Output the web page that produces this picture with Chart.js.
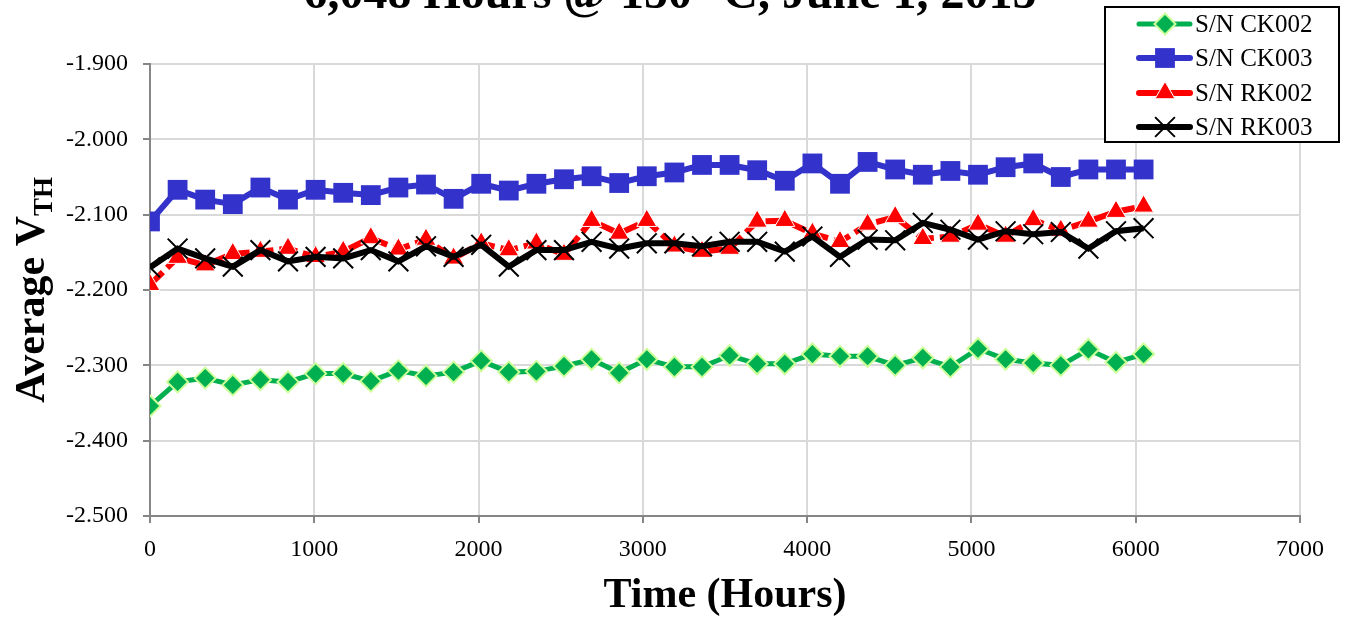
<!DOCTYPE html>
<html>
<head>
<meta charset="utf-8">
<title>Average VTH vs Time</title>
<script src="https://cdn.jsdelivr.net/npm/chart.js@4.4.1/dist/chart.umd.min.js"></script>
<style>
  html, body { margin: 0; padding: 0; background: #fff; }
  #wrap { width: 1345px; height: 617px; }
</style>
</head>
<body>
<div id="wrap"><canvas id="vthChart" width="1345" height="617"></canvas></div>
<script>
// Weekly readings (hours at 150 C)
const hours = [0, 168, 336, 504, 672, 840, 1008, 1176, 1344, 1512, 1680, 1848, 2016,
  2184, 2352, 2520, 2688, 2856, 3024, 3192, 3360, 3528, 3696, 3864, 4032, 4200,
  4368, 4536, 4704, 4872, 5040, 5208, 5376, 5544, 5712, 5880, 6048];

const ck002 = [-2.354, -2.322, -2.317, -2.326, -2.319, -2.322, -2.311, -2.311, -2.321, -2.307,
  -2.314, -2.309, -2.294, -2.309, -2.308, -2.301, -2.292, -2.310, -2.292, -2.302,
  -2.302, -2.287, -2.298, -2.298, -2.285, -2.288, -2.288, -2.300, -2.290, -2.302,
  -2.278, -2.292, -2.297, -2.300, -2.279, -2.296, -2.285];

const ck003 = [-2.109, -2.067, -2.080, -2.086, -2.064, -2.080, -2.067, -2.071, -2.074, -2.064,
  -2.060, -2.079, -2.059, -2.068, -2.059, -2.053, -2.049, -2.058, -2.049, -2.044,
  -2.034, -2.034, -2.041, -2.055, -2.032, -2.059, -2.030, -2.040, -2.047, -2.042,
  -2.047, -2.037, -2.032, -2.050, -2.040, -2.040, -2.040];

const rk002 = [-2.193, -2.157, -2.167, -2.152, -2.149, -2.145, -2.156, -2.149, -2.131, -2.146,
  -2.133, -2.158, -2.138, -2.147, -2.138, -2.153, -2.108, -2.125, -2.108, -2.142,
  -2.149, -2.145, -2.109, -2.108, -2.125, -2.136, -2.113, -2.103, -2.132, -2.129,
  -2.113, -2.129, -2.107, -2.121, -2.109, -2.096, -2.089];

const rk003 = [-2.170, -2.145, -2.158, -2.169, -2.147, -2.162, -2.156, -2.158, -2.147, -2.162,
  -2.142, -2.156, -2.140, -2.169, -2.147, -2.147, -2.136, -2.145, -2.138, -2.138,
  -2.142, -2.136, -2.136, -2.149, -2.129, -2.156, -2.133, -2.134, -2.111, -2.120,
  -2.133, -2.122, -2.126, -2.123, -2.145, -2.122, -2.118];

const seriesNames = ['S/N CK002', 'S/N CK003', 'S/N RK002', 'S/N RK003'];
const xTicks = [0, 1000, 2000, 3000, 4000, 5000, 6000, 7000];
const yTicks = [-2.5, -2.4, -2.3, -2.2, -2.1, -2.0, -1.9];

const serif = "'Liberation Serif', 'Times New Roman', serif";

function toPoints(values) {
  return hours.map((h, i) => ({ x: h, y: values[i] }));
}

// marker shapes for the legend box, sized like the plotted points
function drawMarker(ctx, ds, x, y) {
  const r = ds.pointRadius;
  ctx.save();
  ctx.fillStyle = ds.pointBackgroundColor;
  ctx.strokeStyle = ds.pointBorderColor;
  ctx.lineWidth = ds.pointBorderWidth;
  ctx.beginPath();
  if (ds.pointStyle === 'rectRot') {
    ctx.moveTo(x, y - r); ctx.lineTo(x + r, y); ctx.lineTo(x, y + r); ctx.lineTo(x - r, y);
    ctx.closePath(); ctx.fill(); ctx.stroke();
  } else if (ds.pointStyle === 'rect') {
    const s = r * Math.SQRT1_2;
    ctx.rect(x - s, y - s, 2 * s, 2 * s); ctx.fill();
  } else if (ds.pointStyle === 'triangle') {
    ctx.moveTo(x, y - r);
    ctx.lineTo(x + r * 0.866, y + r * 0.5);
    ctx.lineTo(x - r * 0.866, y + r * 0.5);
    ctx.closePath(); ctx.fill(); ctx.stroke();
  } else {
    const s = r * Math.SQRT1_2;
    ctx.moveTo(x - s, y - s); ctx.lineTo(x + s, y + s);
    ctx.moveTo(x + s, y - s); ctx.lineTo(x - s, y + s);
    ctx.stroke();
  }
  ctx.restore();
}

const textPlugin = {
  id: 'chartText',
  afterDraw(chart) {
    const ctx = chart.ctx;
    ctx.save();
    ctx.fillStyle = '#000';

    // title (sits partly above the canvas edge)
    ctx.font = 'bold 48px ' + serif;
    ctx.textAlign = 'center';
    ctx.textBaseline = 'alphabetic';
    ctx.fillText('6,048 Hours @ 150\u00B0 C, June 1, 2015', 670, 8);

    // x axis title
    ctx.font = 'bold 42px ' + serif;
    ctx.fillText('Time (Hours)', 725, 607);

    // y axis title with subscript
    ctx.save();
    ctx.translate(44, 290);
    ctx.rotate(-Math.PI / 2);
    ctx.textAlign = 'left';
    ctx.font = 'bold 42px ' + serif;
    const main = 'Average V';
    const wMain = ctx.measureText(main).width;
    ctx.font = 'bold 27px ' + serif;
    const wSub = ctx.measureText('TH').width;
    const x0 = -(wMain + wSub) / 2;
    ctx.font = 'bold 42px ' + serif;
    ctx.fillText(main, x0, 0);
    ctx.font = 'bold 27px ' + serif;
    ctx.fillText('TH', x0 + wMain, 8);
    ctx.restore();

    // legend box
    const lx = 1105, ly = 7, lw = 234, lh = 135;
    ctx.fillStyle = '#fff';
    ctx.fillRect(lx, ly, lw, lh);
    ctx.strokeStyle = '#000';
    ctx.lineWidth = 2;
    ctx.strokeRect(lx, ly, lw, lh);
    const rowsY = [24, 58, 93, 127];
    chart.data.datasets.forEach((ds, i) => {
      const y = rowsY[i];
      ctx.save();
      ctx.strokeStyle = ds.borderColor;
      ctx.lineWidth = ds.borderWidth;
      ctx.lineCap = 'round';
      ctx.beginPath();
      ctx.moveTo(1139, y);
      ctx.lineTo(1190, y);
      ctx.stroke();
      ctx.restore();
      drawMarker(ctx, ds, 1165, y);
      ctx.fillStyle = '#000';
      ctx.font = '25px ' + serif;
      ctx.textAlign = 'left';
      ctx.textBaseline = 'middle';
      ctx.fillText(ds.label, 1195, y + 1);
    });
    ctx.restore();
  }
};

new Chart(document.getElementById('vthChart'), {
  type: 'line',
  data: {
    datasets: [
      {
        label: seriesNames[0],
        data: toPoints(ck002),
        borderColor: '#00b050',
        borderWidth: 5,
        pointStyle: 'rectRot',
        pointRadius: 10.5,
        pointBackgroundColor: '#00b050',
        pointBorderColor: '#ccff99',
        pointBorderWidth: 2,
        order: 4
      },
      {
        label: seriesNames[1],
        data: toPoints(ck003),
        borderColor: '#3333cc',
        borderWidth: 6,
        pointStyle: 'rect',
        pointRadius: 14,
        pointBackgroundColor: '#3333cc',
        pointBorderColor: '#3333cc',
        pointBorderWidth: 0,
        order: 3
      },
      {
        label: seriesNames[2],
        data: toPoints(rk002),
        borderColor: '#ff0000',
        borderWidth: 6,
        borderDash: [18, 6],
        pointStyle: 'triangle',
        pointRadius: 11.5,
        pointBackgroundColor: '#ff0000',
        pointBorderColor: '#ffffff',
        pointBorderWidth: 1,
        order: 2
      },
      {
        label: seriesNames[3],
        data: toPoints(rk003),
        borderColor: '#000000',
        borderWidth: 6,
        pointStyle: 'crossRot',
        pointRadius: 14,
        pointBackgroundColor: '#000000',
        pointBorderColor: '#000000',
        pointBorderWidth: 2,
        order: 1
      }
    ]
  },
  options: {
    responsive: false,
    animation: false,
    devicePixelRatio: 1,
    layout: { padding: { top: 64, right: 45, left: 0, bottom: 0 } },
    plugins: {
      legend: { display: false },
      title: { display: false },
      tooltip: { enabled: false }
    },
    elements: { line: { tension: 0 } },
    scales: {
      x: {
        type: 'linear',
        min: 0,
        max: 7000,
        afterFit: s => { s.height = 101; },
        afterBuildTicks: s => { s.ticks = xTicks.map(v => ({ value: v })); },
        ticks: {
          color: '#000',
          font: { family: serif, size: 24 },
          padding: 12,
          maxRotation: 0,
          callback: v => String(v)
        },
        grid: { color: '#d9d9d9', lineWidth: 2, tickLength: 7, tickColor: '#868686' },
        border: { color: '#868686', width: 2 }
      },
      y: {
        min: -2.5,
        max: -1.9,
        afterFit: s => { s.width = 150; },
        afterBuildTicks: s => { s.ticks = yTicks.map(v => ({ value: v })); },
        ticks: {
          color: '#000',
          font: { family: serif, size: 24 },
          padding: 15,
          callback: v => v.toFixed(3)
        },
        grid: { color: '#d9d9d9', lineWidth: 2, tickLength: 7, tickColor: '#868686' },
        border: { color: '#868686', width: 2 }
      }
    }
  },
  plugins: [textPlugin]
});
</script>
</body>
</html>
